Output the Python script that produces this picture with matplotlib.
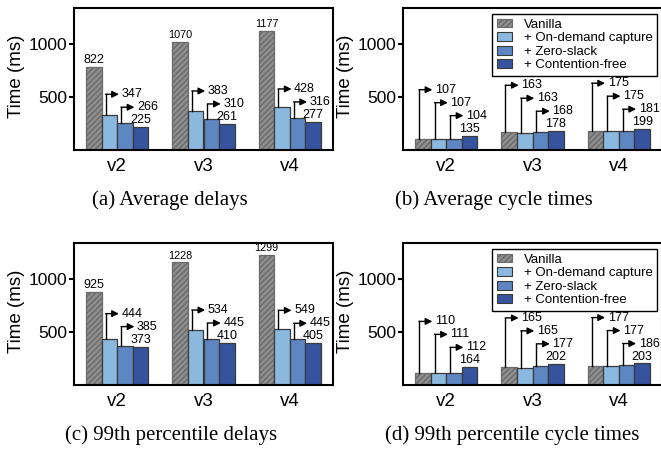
import numpy as np
import matplotlib.pyplot as plt
from matplotlib.patches import Patch

plt.rcParams['font.family'] = ['Liberation Sans', 'DejaVu Sans']
plt.rcParams['hatch.linewidth'] = 1.0
plt.rcParams['hatch.color'] = '#262626'

versions = ['v2', 'v3', 'v4']
series = ['Vanilla', '+ On-demand capture', '+ Zero-slack', '+ Contention-free']
colors = ['#8e8e8e', '#8ab8df', '#5d86c3', '#36549e']

# numbers printed on the chart
avg_delay_labels = [[822, 347, 266, 225], [1070, 383, 310, 261], [1177, 428, 316, 277]]
avg_cycle_labels = [[107, 107, 104, 135], [163, 163, 168, 178], [175, 175, 181, 199]]
p99_delay_labels = [[925, 444, 385, 373], [1228, 534, 445, 410], [1299, 549, 445, 405]]
p99_cycle_labels = [[110, 111, 112, 164], [165, 165, 177, 202], [177, 177, 186, 203]]

# bar heights as drawn (the tall ones sit a bit below their printed number)
avg_delay_bars = [[783, 330, 252, 215], [1018, 365, 293, 246], [1121, 408, 302, 265]]
avg_cycle_bars = [[106, 106, 104, 136], [166, 162, 168, 178], [175, 175, 180, 197]]
p99_delay_bars = [[877, 433, 371, 362], [1152, 518, 433, 396], [1221, 527, 433, 393]]
p99_cycle_bars = [[112, 112, 113, 167], [167, 163, 179, 200], [179, 179, 189, 203]]

captions = ['(a) Average delays', '(b) Average cycle times',
            '(c) 99th percentile delays', '(d) 99th percentile cycle times']

W = 0.18        # bar width
OFF = 65        # label height above a bar
STEP = 122      # vertical step between stacked labels


def draw_panel(ax, bars, labels, legend=False):
    bars = np.array(bars)
    x = np.arange(len(versions))
    for j in range(len(series)):
        ax.bar(x + (j - 1.5) * W, bars[:, j], W, color=colors[j],
               edgecolor='#6a6a6a' if j == 0 else '#3a3a3a', linewidth=0.9,
               hatch='//////' if j == 0 else None, zorder=2)

    for i in range(len(versions)):
        base = bars[i, -1] + OFF
        for j in range(len(series)):
            xc = i + (j - 1.5) * W
            y_stack = base + (3 - j) * STEP
            txt = str(labels[i][j])
            fs = 7.8 if len(txt) > 3 else 9
            if j == 3 or bars[i, j] + OFF > y_stack:
                ax.text(xc, bars[i, j] + OFF, txt, ha='center', va='center',
                        fontsize=fs, zorder=4)
            else:
                x0 = xc - W / 2 + 0.045
                ax.plot([x0, x0], [bars[i, j], y_stack], color='k', lw=1, zorder=3)
                ax.annotate('', xy=(xc + W / 2 + 0.02, y_stack), xytext=(x0, y_stack),
                            arrowprops=dict(arrowstyle='-|>', color='k', lw=1,
                                            mutation_scale=10, shrinkA=0, shrinkB=0),
                            zorder=3)
                ax.text(xc + W / 2 + 0.05, y_stack, txt, ha='left', va='center',
                        fontsize=fs, zorder=4)

    ax.set_xlim(-0.5, 2.5)
    ax.set_ylim(0, 1340)
    ax.set_xticks(x)
    ax.set_xticklabels(versions)
    ax.set_yticks([500, 1000])
    ax.tick_params(axis='x', length=0, pad=6, labelsize=13.5)
    ax.tick_params(axis='y', direction='out', length=3.6, width=1.5, pad=1.5, labelsize=12.5)
    for s in ax.spines.values():
        s.set_linewidth(1.5)
        s.set_color('k')
    ax.set_ylabel('Time (ms)', fontsize=13.5)
    ax.yaxis.set_label_coords(-0.19, 0.52)

    if legend:
        handles = [Patch(facecolor=colors[j],
                         edgecolor='#6a6a6a' if j == 0 else '#3a3a3a', linewidth=0.8,
                         hatch='//////' if j == 0 else None)
                   for j in range(len(series))]
        leg = ax.legend(handles, series, loc='upper right',
                        bbox_to_anchor=(0.981, 0.955), borderaxespad=0,
                        fontsize=9.5, fancybox=False, framealpha=1,
                        handlelength=1.15, handleheight=0.65, handletextpad=0.9,
                        borderpad=0.35, labelspacing=0.12)
        leg.get_frame().set_edgecolor('k')
        leg.get_frame().set_linewidth(1.0)


fig = plt.figure(figsize=(6.61, 4.49), dpi=100)
FW, FH = 661, 449
ax_w, ax_h = 259 / FW, 142.5 / FH
ax_a = fig.add_axes([74 / FW, 1 - 150 / FH, ax_w, ax_h])
ax_b = fig.add_axes([403 / FW, 1 - 150 / FH, ax_w, ax_h])
ax_c = fig.add_axes([74 / FW, 1 - 385 / FH, ax_w, ax_h])
ax_d = fig.add_axes([403 / FW, 1 - 385 / FH, ax_w, ax_h])

draw_panel(ax_a, avg_delay_bars, avg_delay_labels)
draw_panel(ax_b, avg_cycle_bars, avg_cycle_labels, legend=True)
draw_panel(ax_c, p99_delay_bars, p99_delay_labels)
draw_panel(ax_d, p99_cycle_bars, p99_cycle_labels, legend=True)

cap_pos = [(170, 205), (494, 205), (171, 440), (512, 440)]
for (cx, cy), cap in zip(cap_pos, captions):
    fig.text(cx / FW, 1 - cy / FH, cap, ha='center', va='baseline',
             family='Liberation Serif', fontsize=15)

fig.savefig('out.png', dpi=100)
